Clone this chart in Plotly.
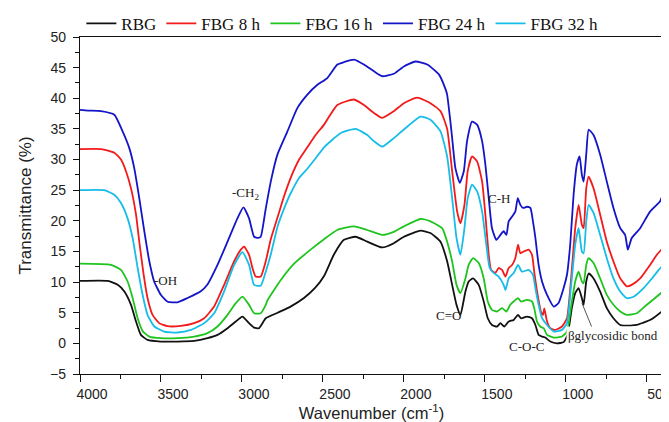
import plotly.graph_objects as go

# ---- data (wavenumber cm-1, transmittance %) ----
wn_rbg = [4000, 3829, 3767, 3726, 3685, 3654, 3624, 3583, 3500, 3398, 3295, 3213, 3151, 3089, 3038, 2997, 2956, 2925,
          2895, 2853, 2780, 2700, 2617, 2550, 2493, 2432, 2370, 2298, 2226, 2134, 2062, 2000, 1897, 1836, 1774, 1733,
          1702, 1675, 1651, 1620, 1600, 1573, 1538, 1507, 1482, 1456, 1425, 1404, 1380, 1353, 1322, 1295, 1277, 1240,
          1209, 1188, 1168, 1147, 1127, 1096, 1055, 1014, 989, 963, 942, 921, 901, 890, 874, 859, 829, 788, 747, 706,
          664, 644, 600, 562, 520, 480, 408, 400]
t_rbg = [10.2, 10.2, 9.55, 8.46, 6.28, 3.56, 1.38, 0.57, 0.3, 0.3, 0.4, 0.84, 1.38, 2.47, 3.56, 4.38, 3.29, 2.58,
         2.47, 4.1, 5.0, 6.0, 7.4, 9.0, 11.0, 14.5, 16.9, 17.4, 16.6, 15.65, 16.35, 17.4, 18.4, 18.0, 16.6, 13.4,
         9.55, 6.28, 4.65, 8.46, 10.1, 10.6, 9.55, 6.83, 4.1, 3.0, 2.75, 3.3, 2.75, 3.56, 3.83, 4.65, 4.1, 4.38,
         4.1, 3.0, 1.38, 1.11, 0.95, 0.3, 0.0, 0.2, 1.4, 5.75, 8.2, 9.0, 7.37, 6.28, 10.1, 11.4, 10.6, 8.46, 5.75, 4.1,
         3.0, 2.9, 2.9, 3.0, 3.4, 3.8, 5.2, 5.4]

wn_8h = [4000, 3870, 3788, 3747, 3716, 3685, 3654, 3634, 3607, 3583, 3552, 3511, 3459, 3377, 3295, 3233, 3172, 3110,
         3048, 3007, 2987, 2956, 2935, 2915, 2884, 2853, 2822, 2781, 2740, 2699, 2647, 2596, 2545, 2493, 2411, 2308,
         2247, 2185, 2134, 2062, 2000, 1918, 1836, 1774, 1733, 1702, 1671, 1651, 1626, 1606, 1579, 1548, 1517, 1497,
         1476, 1462, 1435, 1415, 1394, 1373, 1353, 1332, 1312, 1295, 1281, 1260, 1229, 1209, 1193, 1174, 1154, 1141,
         1133, 1116, 1096, 1065, 1024, 993, 969, 942, 921, 901, 890, 874, 859, 829, 788, 747, 706, 664, 623, 593, 541,
         480, 438, 400]
t_8h = [31.7, 31.7, 31.1, 30.0, 28.1, 25.3, 21.0, 16.6, 11.2, 7.4, 4.65, 3.3, 2.8, 2.85, 3.3, 4.1, 6.0, 9.55,
        13.4, 15.3, 15.8, 14.45, 12.3, 10.9, 10.9, 13.4, 17.0, 20.5, 24.0, 27.0, 30.0, 32.0, 34.0, 35.7, 38.9, 39.8,
        38.9, 37.6, 36.8, 37.9, 39.2, 40.1, 39.2, 37.9, 35.0, 28.1, 21.5, 19.6, 22.6, 28.1, 30.5, 29.7, 26.4, 21.0,
        14.45, 12.0, 11.5, 12.3, 12.0, 10.9, 12.3, 12.8, 13.9, 16.1, 14.7, 15.0, 15.3, 14.45, 11.2, 7.9, 5.2, 4.65,
        5.7, 3.56, 2.47, 2.2, 2.75, 4.1, 10.1, 18.8, 22.6, 19.35, 18.8, 25.3, 27.2, 25.3, 21.0, 16.6, 13.36, 10.6, 9.3,
        9.55, 10.6, 12.8, 14.45, 15.6]

wn_16h = [4000, 3809, 3747, 3706, 3675, 3644, 3613, 3572, 3500, 3398, 3295, 3213, 3151, 3089, 3038, 2997, 2956, 2925,
          2884, 2853, 2843, 2761, 2678, 2576, 2493, 2411, 2308, 2226, 2134, 2062, 2000, 1897, 1836, 1764, 1733, 1702,
          1675, 1651, 1620, 1600, 1573, 1538, 1507, 1482, 1456, 1425, 1394, 1367, 1343, 1322, 1295, 1277, 1240, 1209,
          1195, 1178, 1158, 1137, 1116, 1075, 1024, 993, 969, 942, 921, 901, 890, 874, 859, 829, 788, 747, 706, 664,
          623, 561, 500, 438, 400]
t_16h = [13.0, 12.8, 12.0, 10.1, 7.4, 4.1, 2.0, 1.1, 0.84, 0.84, 1.1, 1.66, 2.75, 4.65, 6.56, 7.64, 6.28, 4.92,
         4.92, 6.28, 7.0, 10.3, 13.0, 15.3, 17.0, 18.5, 19.1, 18.5, 17.7, 18.2, 19.1, 20.3, 19.9, 18.8, 16.6, 13.36,
         9.55, 8.2, 10.6, 12.8, 13.9, 13.1, 10.6, 6.83, 5.47, 5.2, 5.75, 5.2, 6.3, 6.83, 7.37, 6.83, 7.1, 6.83,
         5.75, 3.56, 2.75, 2.47, 1.38, 0.95, 1.11, 1.93, 5.75, 10.1, 11.7, 10.1, 9.8, 12.8, 13.9, 13.1, 10.6, 7.92, 6.3,
         5.2, 4.65, 4.92, 6.3, 7.64, 8.5]

wn_24h = [4000, 3950, 3870, 3788, 3737, 3696, 3665, 3634, 3603, 3572, 3542, 3500, 3459, 3398, 3336, 3254, 3213, 3151,
          3089, 3028, 2991, 2956, 2925, 2900, 2884, 2853, 2822, 2781, 2719, 2658, 2596, 2534, 2473, 2411, 2370, 2308,
          2247, 2185, 2134, 2062, 2000, 1928, 1856, 1784, 1743, 1733, 1712, 1702, 1682, 1655, 1630, 1610, 1579, 1548,
          1517, 1497, 1476, 1456, 1429, 1404, 1384, 1367, 1353, 1332, 1312, 1297, 1281, 1264, 1240, 1219, 1203, 1188,
          1168, 1147, 1116, 1075, 1045, 1014, 993, 973, 952, 932, 915, 901, 890, 874, 859, 829, 788, 747, 706, 664, 634,
          617, 593, 541, 480, 418, 400]
t_24h = [38.1, 38.0, 37.9, 37.3, 34.6, 31.9, 28.6, 23.7, 18.3, 13.4, 10.1, 7.9, 6.8, 6.7, 7.4, 8.5, 9.6, 12.8,
         16.6, 20.4, 22.2, 20.4, 17.4, 17.2, 17.4, 22.0, 26.4, 30.8, 34.6, 38.4, 40.6, 42.2, 43.3, 45.5, 45.9, 46.3,
         45.5, 44.4, 43.6, 44.0, 45.2, 46.0, 45.5, 43.9, 41.5, 40.6, 36.0, 33.5, 28.6, 26.2, 28.1, 33.0, 36.2, 35.7,
         33.0, 29.2, 23.7, 18.8, 16.9, 17.7, 18.3, 17.7, 19.9, 20.7, 21.5, 23.7, 22.6, 22.1, 22.3, 22.1, 19.9, 17.2,
         12.8, 10.1, 7.9, 6.0, 6.6, 9.0, 11.2, 16.1, 24.3, 29.2, 30.5, 27.5, 26.4, 30.8, 34.9, 34.0, 30.8, 26.4, 22.1,
         18.8, 17.7, 15.3, 17.2, 18.8, 21.5, 23.2, 24.4]

wn_32h = [4000, 3850, 3788, 3747, 3706, 3675, 3644, 3613, 3583, 3541, 3480, 3398, 3315, 3233, 3172, 3110, 3048, 2997,
          2956, 2925, 2884, 2853, 2822, 2781, 2740, 2699, 2647, 2596, 2545, 2493, 2391, 2298, 2226, 2185, 2134, 2062,
          2000, 1897, 1836, 1774, 1733, 1702, 1675, 1651, 1626, 1606, 1579, 1548, 1517, 1491, 1470, 1446, 1415, 1384,
          1373, 1353, 1322, 1295, 1271, 1229, 1203, 1188, 1168, 1147, 1133, 1116, 1075, 1024, 993, 969, 942, 921, 901,
          890, 874, 859, 829, 788, 747, 706, 664, 623, 582, 520, 459, 402, 400]
t_32h = [25.0, 25.0, 24.25, 22.9, 20.4, 17.2, 12.3, 7.9, 4.65, 2.75, 1.93, 1.77, 2.2, 3.3, 4.9, 8.5, 12.8, 14.9,
         12.8, 9.55, 9.4, 11.7, 14.5, 19.0, 22.0, 24.5, 27.0, 28.5, 30.2, 32.0, 34.3, 35.0, 34.0, 33.0, 32.1, 33.5,
         34.9, 37.0, 36.5, 34.6, 30.5, 23.7, 17.2, 14.45, 18.8, 23.7, 25.9, 24.8, 21.5, 16.1, 12.3, 11.5, 10.9, 9.55,
         8.7, 10.6, 11.5, 12.8, 11.7, 12.0, 11.2, 9.0, 6.3, 4.1, 3.56, 3.0, 1.93, 2.2, 3.3, 9.0, 16.1, 18.8, 15.0,
         14.7, 19.9, 22.6, 21.3, 17.7, 13.9, 10.6, 8.46, 7.37, 7.6, 9.0, 10.9, 12.6, 0.5]

series = [
    ("RBG", wn_rbg, t_rbg, "#111111"),
    ("FBG 8 h", wn_8h, t_8h, "#f21a1a"),
    ("FBG 16 h", wn_16h, t_16h, "#1fc41f"),
    ("FBG 24 h", wn_24h, t_24h, "#1414c8"),
    ("FBG 32 h", wn_32h, t_32h, "#16bde8"),
]

x_ticks = [4000, 3500, 3000, 2500, 2000, 1500, 1000, 500]
y_ticks = [-5, 0, 5, 10, 15, 20, 25, 30, 35, 40, 45, 50]

SERIF = "Liberation Serif, Times New Roman, serif"
SANS = "Liberation Sans, Arial, sans-serif"

fig = go.Figure()
for name, xs, ys, col in series:
    fig.add_trace(go.Scatter(x=xs, y=ys, mode="lines", name=name,
                             line=dict(color=col, width=1.8, shape="spline", smoothing=0.5)))

ann_font = dict(family=SERIF, size=13, color="#222")
annotations = [
    dict(x=3475, y=10.3, text="-OH"),
    dict(x=2979, y=24.4, text="-CH<sub>2</sub>"),
    dict(x=1415, y=23.7, text="C-H"),
    dict(x=1727, y=4.6, text="C=O"),
    dict(x=1243, y=-0.5, text="C-O-C"),
]
for a in annotations:
    fig.add_annotation(x=a["x"], y=a["y"], text=a["text"], showarrow=False, font=ann_font,
                       xref="x", yref="y")
fig.add_annotation(x=711, y=1.3, text="βglycosidic bond", showarrow=False, font=ann_font,
                   bgcolor="rgba(255,255,255,0.95)", borderpad=1)
fig.add_shape(type="line", x0=901, y0=6.6, x1=839, y1=2.6, line=dict(color="#555", width=1))

fig.update_layout(
    width=669, height=422,
    margin=dict(l=72, r=14, t=29, b=56, autoexpand=False),
    paper_bgcolor="white", plot_bgcolor="white",
    font=dict(family=SANS, size=14, color="#222"),
    legend=dict(orientation="h", x=0.45, xanchor="center", y=1.039, yanchor="middle",
                font=dict(family=SERIF, size=17, color="#111"), bgcolor="rgba(0,0,0,0)",
                itemwidth=30, tracegroupgap=0),
    showlegend=True,
)
fig.update_xaxes(range=[4000, 400], tickmode="array", tickvals=x_ticks, automargin=False,
                 ticks="outside", ticklen=7, tickwidth=1.2, tickcolor="#111",
                 minor=dict(dtick=250, tick0=0, ticks="outside", ticklen=4, tickcolor="#111"),
                 showline=True, linecolor="#111", linewidth=1.3, mirror=True,
                 showgrid=False, zeroline=False, ticklabelshift=-12,
                 tickfont=dict(family=SANS, size=14, color="#222"),
                 title=dict(text="Wavenumber (cm<sup>-1</sup>)", font=dict(family=SANS, size=16.5, color="#222"),
                            standoff=1))
fig.update_yaxes(range=[-5, 50], tickmode="array", tickvals=y_ticks, automargin=False,
                 ticks="outside", ticklen=6, tickwidth=1.2, tickcolor="#111",
                 minor=dict(dtick=2.5, tick0=0, ticks="outside", ticklen=4, tickcolor="#111"),
                 showline=True, linecolor="#111", linewidth=1.3, mirror=True,
                 showgrid=False, zeroline=False, ticklabelstandoff=4,
                 tickfont=dict(family=SANS, size=14, color="#222"),
                 title=dict(text="Transmittance (%)", font=dict(family=SANS, size=17, color="#222"),
                            standoff=14))

fig.write_html("out.html")
